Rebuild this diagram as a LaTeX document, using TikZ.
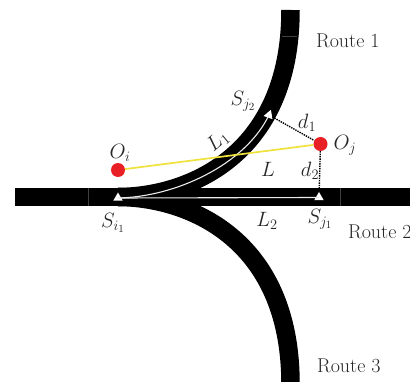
\documentclass[tikz,border=0pt]{standalone}
\usepackage{amsmath}
\usetikzlibrary{shapes.geometric}
\definecolor{ptred}{RGB}{232,32,38}
\definecolor{ptyellow}{RGB}{240,226,60}
\tikzset{
  road/.style={line width=18.5pt,black,line cap=butt},
  tick/.style={line width=0.5pt,black!75},
  whitepath/.style={line width=1.1pt,white!92!black},
  pt/.style={circle,fill=ptred,inner sep=0pt,minimum size=14pt},
  stop/.style={regular polygon,regular polygon sides=3,fill=white,inner sep=0pt,minimum size=11pt},
  dist/.style={densely dotted,line width=1.4pt},
  lab/.style={font=\fontsize{21}{23}\selectfont,text=black!85,inner sep=0pt},
  route/.style={font=\fontsize{20}{22}\selectfont,text=black!85,inner sep=0pt,anchor=west},
}
\begin{document}
\begin{tikzpicture}[x=1pt,y=-1pt]
\useasboundingbox (0,0) rectangle (410,382);
\coordinate (west) at (15,197);
\coordinate (east) at (410,197);
\coordinate (fork) at (118,197);
\coordinate (north) at (290.5,10);
\coordinate (south) at (290.5,384);
\draw[road] (west) -- (east);
\draw[road] (fork) .. controls (185,197) and (290.5,158) .. (north);
\draw[road] (fork) .. controls (185,197) and (290.5,236) .. (south);
\draw[tick] (88,188) -- (88,206);
\draw[tick] (340.5,188) -- (340.5,206);
\draw[tick] (282,36) -- (297,36);
\node[pt] (Oi) at (118,170) {};
\node[pt] (Oj) at (320.5,144) {};
\node[stop] (Si) at (118,198) {};
\node[stop] (Sj1) at (319,197.5) {};
\node[stop,shape border rotate=-20] (Sj2) at (269,115) {};
\draw[whitepath] (Si.center) -- (Sj1.center);
\draw[whitepath] (Si.center) .. controls (175,197) and (245,165) .. (Sj2.center);
\draw[ptyellow,line width=1.7pt] (Oi) -- (Oj);
\draw[dist] (Sj2) -- (Oj);
\draw[dist] (Oj) -- (Sj1);
\node[lab] at (120,153) {$O_i$};
\node[lab] at (345,145) {$O_j$};
\node[lab] at (113,223) {$S_{i_1}$};
\node[lab] at (320,219) {$S_{j_1}$};
\node[lab] at (243,101) {$S_{j_2}$};
\node[lab,rotate=40] at (218,141) {$L_1$};
\node[lab] at (268,169) {$L$};
\node[lab] at (267,221) {$L_2$};
\node[lab] at (307,123) {$d_1$};
\node[lab] at (310,171) {$d_2$};
\node[route] at (316,41) {Route 1};
\node[route] at (348,232) {Route 2};
\node[route] at (317,366) {Route 3};
\end{tikzpicture}
\end{document}
